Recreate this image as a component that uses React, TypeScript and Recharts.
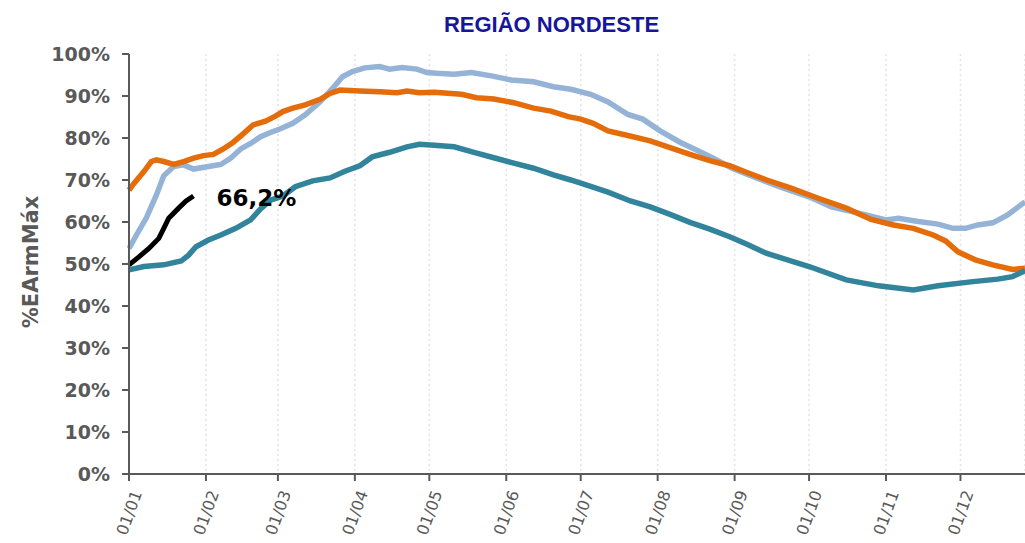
import { CartesianGrid, Line, LineChart, XAxis, YAxis } from 'recharts'

// dia do ano (ano bissexto) -> %EArmMáx
const azulDias = [0, 3, 7, 11, 14, 18, 22, 26, 32, 37, 41, 45, 49, 53, 57, 61, 66, 71, 77, 82, 86, 90, 95, 101, 105, 110, 116, 120, 124, 131, 138, 146, 154, 163, 171, 178, 186, 193, 201, 207, 214, 222, 228, 235, 243, 249, 262, 274, 283, 294, 305, 310, 318, 326, 332, 337, 342, 348, 354, 361]
const azulValores = [53.7, 56.9, 61.0, 66.4, 71.0, 73.2, 73.6, 72.6, 73.2, 73.7, 75.2, 77.4, 78.7, 80.3, 81.3, 82.2, 83.5, 85.5, 88.6, 91.8, 94.6, 95.8, 96.7, 97.0, 96.4, 96.8, 96.4, 95.6, 95.4, 95.2, 95.6, 94.8, 93.8, 93.4, 92.2, 91.6, 90.4, 88.6, 85.6, 84.5, 81.7, 79.0, 77.3, 75.3, 72.8, 71.4, 68.4, 66.0, 63.6, 62.1, 60.5, 60.9, 60.1, 59.5, 58.5, 58.5, 59.3, 59.8, 61.7, 64.8]

const laranjaDias = [0, 2, 6, 9, 11, 14, 18, 22, 26, 30, 34, 38, 42, 46, 50, 55, 59, 62, 66, 71, 77, 81, 85, 93, 101, 108, 112, 117, 123, 134, 140, 147, 155, 163, 170, 177, 182, 187, 193, 201, 210, 218, 226, 234, 242, 249, 257, 267, 278, 289, 299, 308, 316, 324, 329, 334, 341, 348, 356, 361]
const laranjaValores = [67.6, 69.2, 72.0, 74.4, 74.8, 74.4, 73.7, 74.4, 75.2, 75.8, 76.1, 77.4, 79.0, 81.0, 83.1, 84.0, 85.2, 86.3, 87.1, 87.9, 89.2, 90.6, 91.4, 91.2, 91.0, 90.8, 91.2, 90.8, 90.9, 90.4, 89.6, 89.3, 88.4, 87.1, 86.4, 85.1, 84.5, 83.5, 81.7, 80.6, 79.3, 77.7, 76.1, 74.6, 73.4, 71.8, 70.0, 68.0, 65.6, 63.3, 60.6, 59.3, 58.5, 56.9, 55.5, 52.9, 51.0, 49.8, 48.7, 49.0]

const verdeDias = [0, 6, 14, 21, 24, 27, 32, 37, 43, 49, 53, 57, 62, 67, 74, 81, 87, 93, 98, 105, 112, 117, 123, 131, 139, 147, 155, 163, 171, 178, 186, 193, 202, 210, 218, 226, 234, 242, 249, 257, 274, 289, 302, 316, 326, 340, 350, 356, 361]
const verdeValores = [48.6, 49.4, 49.8, 50.7, 52.1, 54.1, 55.7, 56.9, 58.5, 60.5, 63.1, 65.2, 66.2, 68.4, 69.8, 70.5, 72.1, 73.4, 75.5, 76.6, 77.9, 78.5, 78.3, 77.9, 76.6, 75.3, 74.0, 72.8, 71.2, 70.0, 68.5, 67.1, 65.0, 63.6, 61.8, 59.9, 58.3, 56.5, 54.7, 52.5, 49.4, 46.2, 44.8, 43.8, 44.8, 45.8, 46.4, 47.0, 48.4]

const atualDias = [0, 4, 8, 12, 14, 16, 20, 23, 26]
const atualValores = [49.8, 51.7, 53.7, 56.1, 58.5, 60.9, 63.3, 65.0, 66.2]

const xTickDias = [0, 31, 60, 91, 121, 152, 182, 213, 244, 274, 305, 335]
const xTickLabels = ['01/01', '01/02', '01/03', '01/04', '01/05', '01/06', '01/07', '01/08', '01/09', '01/10', '01/11', '01/12']
const yTicks = [0, 10, 20, 30, 40, 50, 60, 70, 80, 90, 100]

const toData = (dias: number[], valores: number[]) =>
  dias.map((d, i) => ({ dia: d, valor: valores[i] }))

const azul = toData(azulDias, azulValores)
const laranja = toData(laranjaDias, laranjaValores)
const verde = toData(verdeDias, verdeValores)
const atual = toData(atualDias, atualValores)

const axisColor = '#595959'

function XTick({ x, y, payload }: any) {
  const idx = xTickDias.indexOf(payload.value)
  return (
    <g transform={`translate(${x + 8},${y + 9})`}>
      <text
        transform="rotate(-70)"
        textAnchor="end"
        dy="0.35em"
        fill={axisColor}
        fontSize={16}
        fontFamily="'DejaVu Sans', sans-serif"
      >
        {xTickLabels[idx]}
      </text>
    </g>
  )
}

function UltimoValor({ x, y, index, value }: any) {
  if (index !== atual.length - 1) return null
  return (
    <text
      x={x + 23}
      y={y + 2}
      dominantBaseline="central"
      fontSize={23}
      fontWeight="bold"
      fontFamily="'DejaVu Sans', sans-serif"
      fill="#000"
    >
      {`${Number(value).toFixed(1).replace('.', ',')}%`}
    </text>
  )
}

export default function App() {
  return (
    <div
      style={{
        position: 'absolute',
        left: 0,
        top: 0,
        width: 1025,
        height: 543,
        background: '#fff',
        overflow: 'hidden',
      }}
    >
      <div
        style={{
          position: 'absolute',
          left: 0,
          top: 12,
          width: 1103,
          textAlign: 'center',
          color: '#16169a',
          fontFamily: "'Liberation Sans', Arial, sans-serif",
          fontWeight: 'bold',
          fontSize: 22,
        }}
      >
        REGIÃO NORDESTE
      </div>
      <LineChart
        width={1025}
        height={543}
        margin={{ top: 54, right: 0, bottom: 0, left: 0 }}
      >
        <CartesianGrid
          horizontal={false}
          stroke="#e3e3e3"
          strokeDasharray="2 3"
          strokeWidth={1.5}
        />
        <XAxis
          type="number"
          dataKey="dia"
          domain={[0, 361]}
          ticks={xTickDias}
          interval={0}
          height={69}
          tick={<XTick />}
          tickSize={7}
          tickMargin={1}
          axisLine={{ stroke: axisColor, strokeWidth: 2 }}
          tickLine={{ stroke: axisColor, strokeWidth: 2 }}
        />
        <YAxis
          type="number"
          domain={[0, 100]}
          ticks={yTicks}
          interval={0}
          width={129}
          tickSize={7}
          tickMargin={12}
          tickFormatter={(v) => `${v}%`}
          tick={{
            fill: axisColor,
            fontSize: 19,
            fontWeight: 'bold',
            fontFamily: "'DejaVu Sans', sans-serif",
          }}
          axisLine={{ stroke: axisColor, strokeWidth: 2 }}
          tickLine={{ stroke: axisColor, strokeWidth: 2 }}
          label={{
            content: () => (
              <text
                x={31}
                y={262}
                transform="rotate(-90 31 262)"
                textAnchor="middle"
                dominantBaseline="central"
                fill={axisColor}
                fontSize={21}
                fontWeight="bold"
                fontFamily="'DejaVu Sans', sans-serif"
              >
                %EArmMáx
              </text>
            ),
          }}
        />
        <Line
          data={azul}
          dataKey="valor"
          stroke="#95b3d7"
          strokeWidth={5.5}
          dot={false}
          isAnimationActive={false}
        />
        <Line
          data={laranja}
          dataKey="valor"
          stroke="#e46c0a"
          strokeWidth={5.5}
          dot={false}
          isAnimationActive={false}
        />
        <Line
          data={verde}
          dataKey="valor"
          stroke="#31849b"
          strokeWidth={5.5}
          dot={false}
          isAnimationActive={false}
        />
        <Line
          data={atual}
          dataKey="valor"
          stroke="#000"
          strokeWidth={5}
          dot={false}
          label={<UltimoValor />}
          isAnimationActive={false}
        />
      </LineChart>
    </div>
  )
}
